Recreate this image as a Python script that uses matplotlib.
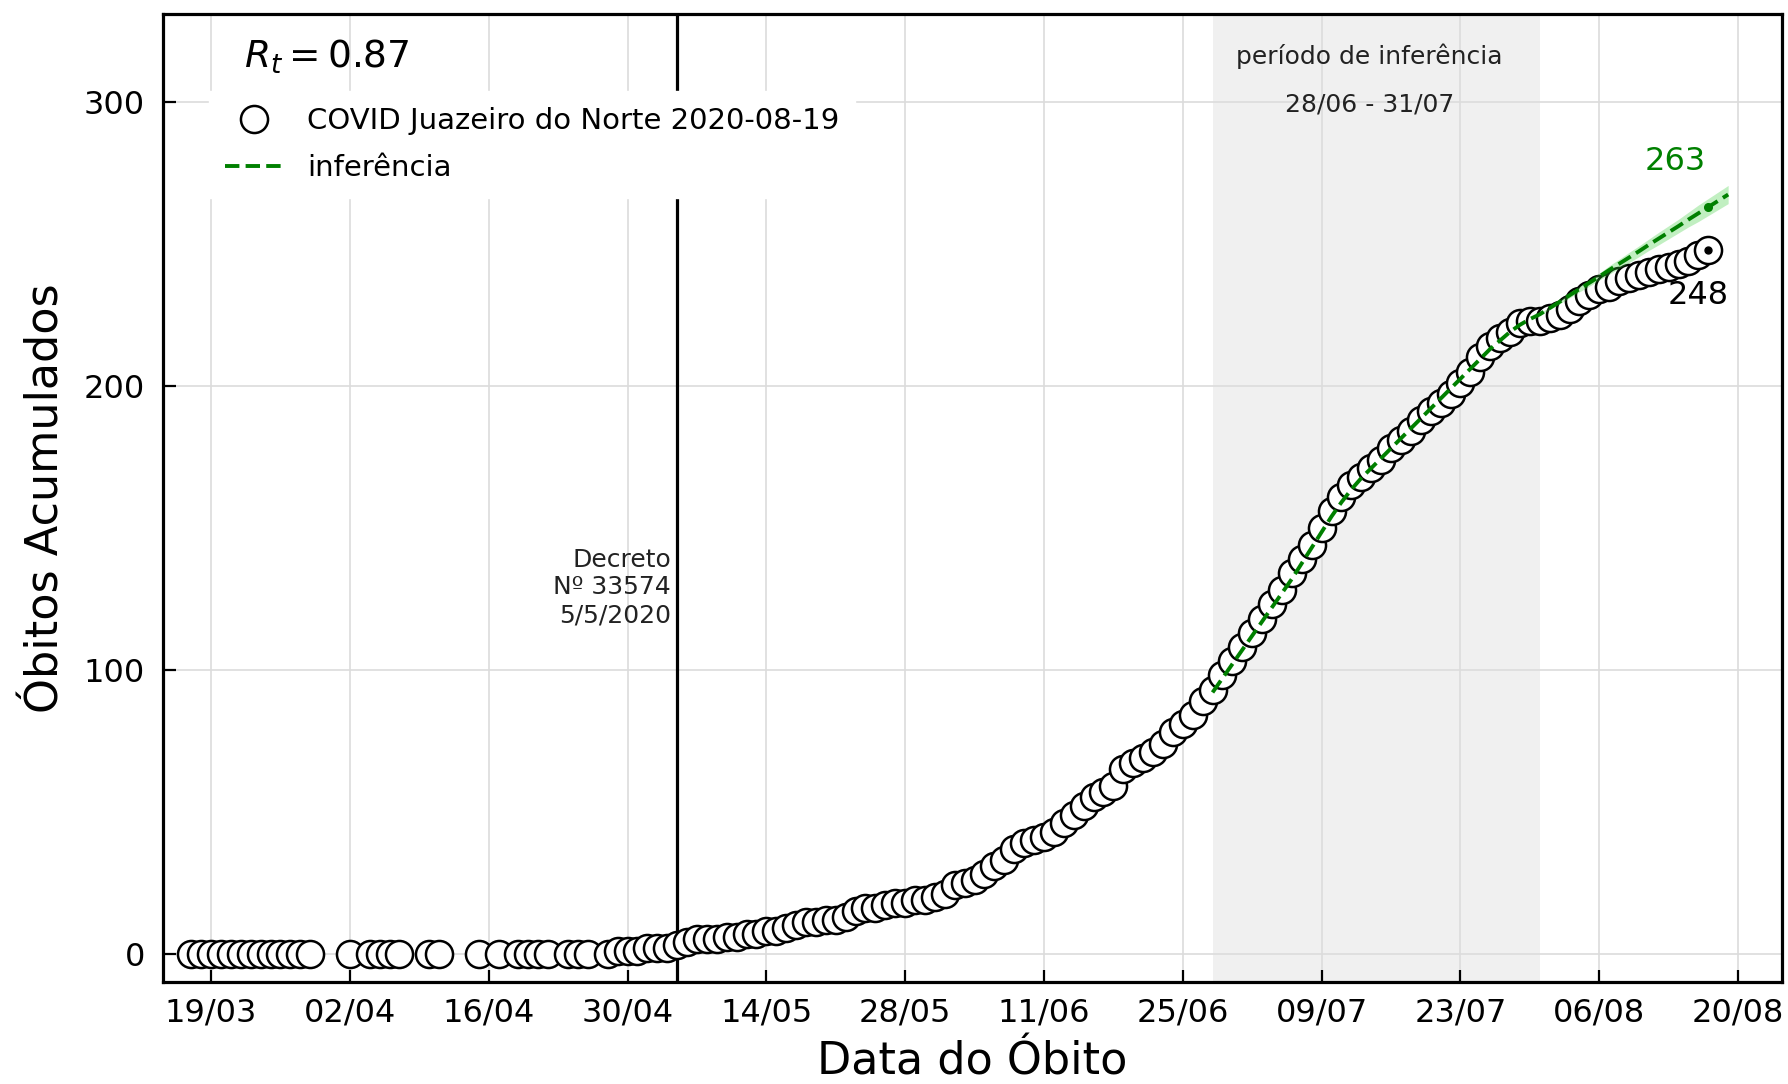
import pandas as pd
import matplotlib
matplotlib.use("Agg")
import matplotlib.pyplot as plt
import matplotlib.dates as mdates


# observed daily cumulative deaths, 17/03 -> 17/08 (some early days absent)
FIRST_DAY = "2020-03-17"
LAST_DAY = "2020-08-17"
MISSING_DAYS = [
    "2020-03-30", "2020-03-31", "2020-04-01", "2020-04-03", "2020-04-08",
    "2020-04-09", "2020-04-12", "2020-04-13", "2020-04-14", "2020-04-16",
    "2020-04-18", "2020-04-23", "2020-04-27",
]
deaths = [
    0, 0, 0, 0, 0, 0, 0, 0, 0, 0, 0, 0, 0, 0, 0,
    0, 0, 0, 0, 0, 0, 0, 0, 0, 0, 0, 0, 0, 0, 0,
    1, 1, 1, 2, 2, 2, 3,
    4, 5, 5, 5, 6, 6, 7, 7, 8, 8, 9, 10, 11, 11, 12, 12, 13,
    15, 16, 16, 17, 18, 18, 19, 19, 20, 21,
    24, 25, 26, 28, 31, 33, 37, 39, 40, 41,
    43, 46, 49, 52, 55, 57, 59, 65, 67, 69,
    71, 74, 78, 81, 84, 89, 93, 98, 103, 108,
    113, 118, 123, 128, 134, 139, 144, 150, 156, 161,
    165, 168, 171, 174, 178, 181, 184, 188, 191, 194,
    197, 201, 205, 210, 214, 217, 219, 222, 223, 223,
    224, 225, 227, 230, 232, 234, 235, 237, 238, 239,
    240, 241, 242, 243, 244, 246, 248,
]

# model inference 28/06 -> 19/08
INF_START = "2020-06-28"
INF_END = "2020-08-19"
inference = [
    92, 97, 102, 107, 112, 117, 122, 127, 132, 137.5,
    143, 148.5, 154, 159, 163.5, 167.5, 171, 174.5, 178, 181.5,
    185, 188.5, 192, 195.5, 199, 202.5, 206, 209.5, 213, 216,
    219, 221.5, 223.5, 225.2, 227.4, 229.6, 231.9, 234.1, 236.3, 238.5,
    240.8, 243.0, 245.2, 247.4, 249.7, 251.9, 254.1, 256.3, 258.6, 260.8,
    263.0, 265.2, 267.4,
]

# uncertainty band 31/07 -> 19/08
BAND_START = "2020-07-31"
band_low = [
    224.9, 226.9, 228.9, 231.0, 233.1, 235.1, 237.3, 239.3, 241.4, 243.4,
    245.5, 247.7, 249.7, 251.8, 253.9, 256.0, 257.9, 260.0, 262.1, 264.2,
]
band_high = [
    225.5, 227.9, 230.3, 232.8, 235.1, 237.5, 239.7, 242.3, 244.6, 247.0,
    249.3, 251.7, 254.1, 256.4, 258.7, 261.2, 263.7, 266.0, 268.3, 270.6,
]

PERIOD = ("2020-06-28", "2020-07-31")
DECREE_DAY = "2020-05-05"
RT = 0.87
PREDICTED_LAST = 263
CITY_LABEL = "COVID Juazeiro do Norte 2020-08-19"


obs_dates = pd.date_range(FIRST_DAY, LAST_DAY).drop(pd.to_datetime(MISSING_DAYS))
inf_dates = pd.date_range(INF_START, INF_END)
band_dates = pd.date_range(BAND_START, INF_END)
last_day = pd.Timestamp(LAST_DAY)

fig = plt.figure(figsize=(17.88, 10.84), dpi=100)
ax = fig.add_axes([0.0912, 0.0941, 0.9055, 0.893])

ax.axvspan(pd.Timestamp(PERIOD[0]), pd.Timestamp(PERIOD[1]),
           color="#f0f0f0", zorder=0, lw=0)
ax.grid(True, color="#dcdcdc", linewidth=1.2, zorder=1)
ax.set_axisbelow(True)

ax.axvline(pd.Timestamp(DECREE_DAY), color="black", linewidth=2.3, zorder=2)
ax.text(pd.Timestamp(DECREE_DAY) - pd.Timedelta(days=0.6), 129,
        "Decreto\nNº 33574\n5/5/2020", ha="right", va="center",
        fontsize=18, color="#222222", linespacing=1.2)

ax.plot(obs_dates, deaths, "o", markersize=19.5, markerfacecolor="white",
        markeredgecolor="black", markeredgewidth=1.8, zorder=3,
        label=CITY_LABEL)

ax.fill_between(band_dates, band_low, band_high, color="limegreen",
                alpha=0.3, lw=0, zorder=4)
ax.plot(inf_dates, inference, "--", color="green", linewidth=2.8, zorder=5,
        label="inferência")

ax.plot([last_day], [deaths[-1]], "o", color="black", markersize=5, zorder=6)
ax.plot([last_day], [PREDICTED_LAST], "o", color="green", markersize=5.5, zorder=6)
ax.text(last_day - pd.Timedelta(days=3.3), 279, str(PREDICTED_LAST),
        color="green", fontsize=23, ha="center", va="center")
ax.text(last_day - pd.Timedelta(days=1), 232, str(deaths[-1]),
        color="black", fontsize=23, ha="center", va="center")

mid = pd.Timestamp(PERIOD[0]) + (pd.Timestamp(PERIOD[1]) - pd.Timestamp(PERIOD[0])) / 2
mid = mid - pd.Timedelta(days=0.7)
ax.text(mid, 316, "período de inferência", ha="center", va="center",
        fontsize=18, color="#222222")
ax.text(mid, 299, "28/06 - 31/07", ha="center", va="center",
        fontsize=18, color="#222222")

ax.text(0.05, 0.945, r"$R_t = %.2f$" % RT, transform=ax.transAxes,
        fontsize=27, va="baseline")

leg = ax.legend(loc="upper left", bbox_to_anchor=(0.0284, 0.9205),
                borderaxespad=0, fontsize=21, frameon=True, fancybox=False,
                framealpha=1, edgecolor="white", labelspacing=0.65,
                borderpad=0.55, handletextpad=0.8)
leg.set_zorder(7)

ticks = pd.date_range("2020-03-19", periods=12, freq="14D")
ax.set_xticks(ticks)
ax.xaxis.set_major_formatter(mdates.DateFormatter("%d/%m"))
ax.set_xlim(mdates.date2num(pd.Timestamp("2020-03-19")) - 4.84,
            mdates.date2num(pd.Timestamp("2020-08-20")) + 4.44)
ax.set_yticks([0, 100, 200, 300])
ax.set_ylim(-10, 331)

ax.tick_params(direction="in", length=9, width=1.6, labelsize=23,
               top=False, right=False)
ax.tick_params(axis="x", pad=11)
ax.tick_params(axis="y", pad=13)
for side in ax.spines.values():
    side.set_linewidth(2.3)

ax.set_xlabel("Data do Óbito", fontsize=32, labelpad=9)
ax.set_ylabel("Óbitos Acumulados", fontsize=32, labelpad=12)

fig.savefig("out.png", dpi=100)
